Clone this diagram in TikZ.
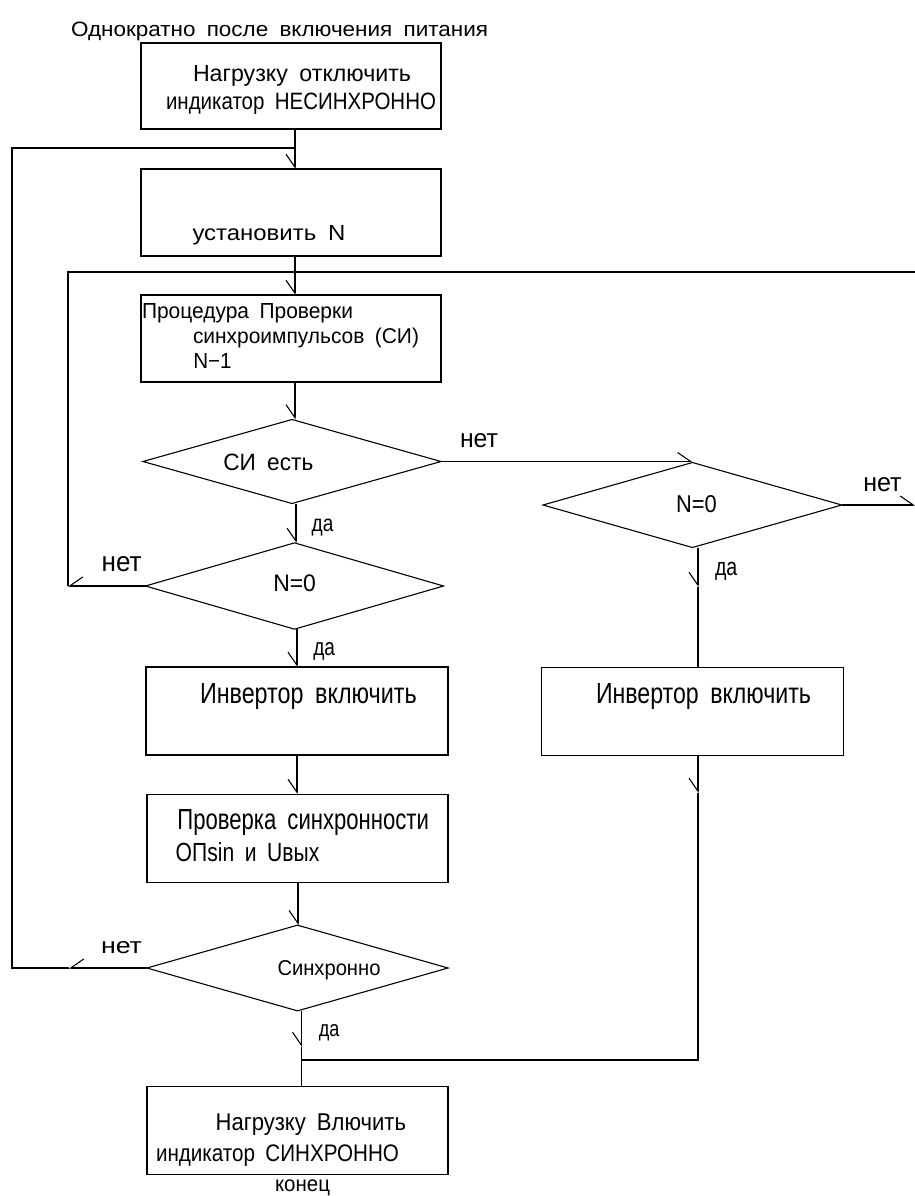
\documentclass[tikz,border=0pt]{standalone}
\usepackage{fontspec}
\setmainfont{Liberation Sans}[WordSpace=1.8]
\usetikzlibrary{shapes.geometric,arrows.meta}
\newcommand{\tx}[3]{\resizebox{#1pt}{#2pt}{#3}}
\begin{document}
\begin{tikzpicture}[x=1pt,y=-1pt,
  line width=1.1pt,
  box/.style={draw, rectangle, inner sep=0pt, outer sep=0pt},
  dia/.style={draw, diamond, inner sep=0pt, outer sep=0pt},
  txt/.style={anchor=base west, inner sep=0pt, outer sep=0pt, font=\fontsize{20}{24}\selectfont},
  barbR/.style={-{Straight Barb[harpoon,swap,length=13pt,width=18pt]}},
  barbL/.style={-{Straight Barb[harpoon,length=13pt,width=18pt]}},
]
\useasboundingbox (0,0) rectangle (915,1196);

% boxes
\node[box, minimum width=300pt, minimum height=86pt] (b1) at (291,86) {};
\node[box, minimum width=300pt, minimum height=87pt] (b2) at (291,212.5) {};
\node[box, minimum width=300pt, minimum height=87pt] (b3) at (291,338.5) {};
\node[box, minimum width=302pt, minimum height=88pt] (b4) at (297,711) {};
\node[box, minimum width=301pt, minimum height=88.5pt] (b5) at (297.5,838.3) {};
\node[box, minimum width=301pt, minimum height=87.5pt] (b6) at (297.5,1130.4) {};
\node[box, minimum width=301.3pt, minimum height=88.7pt] (b7) at (692.4,711.4) {};

% diamonds
\node[dia, minimum width=298pt, minimum height=84pt] (d1) at (292,461.5) {};
\node[dia, minimum width=298pt, minimum height=86.3pt] (d2) at (294.5,586) {};
\node[dia, minimum width=301pt, minimum height=85.7pt] (d3) at (297.5,968) {};
\node[dia, minimum width=298.7pt, minimum height=85pt] (d4) at (692.4,505) {};

% texts
\node[txt] (title) at (71,37) {\tx{417}{14.5}{Однократно после включения питания}};
\node[txt] (t1) at (193,82) {\tx{218}{16}{Нагрузку отключить}};
\node[txt] (t2) at (166,110) {\tx{270}{16.5}{индикатор НЕСИНХРОННО}};
\node[txt] (t3) at (192.5,240) {\tx{153}{15}{установить N}};
\node[txt] (t4) at (142,318) {\tx{211}{15}{Процедура Проверки}};
\node[txt] (t5) at (193,343) {\tx{226}{15.5}{синхроимпульсов (СИ)}};
\node[txt] (t6) at (193.3,368) {\tx{38.4}{15}{N−1}};
\node[txt] (t7) at (223.3,470) {\tx{90}{16.5}{СИ есть}};
\node[txt] (t8) at (460,447) {\tx{38}{14}{нет}};
\node[txt] (t9) at (863.3,491.7) {\tx{38.4}{14}{нет}};
\node[txt] (t10) at (676,512.7) {\tx{40.7}{17}{N=0}};
\node[txt] (t11) at (715,575) {\tx{22.3}{13.3}{да}};
\node[txt] (t12) at (101.7,571.7) {\tx{40}{15}{нет}};
\node[txt] (t13) at (273.3,591.7) {\tx{42.7}{16.7}{N=0}};
\node[txt] (t14) at (311.7,531.7) {\tx{21.7}{12.5}{да}};
\node[txt] (t15) at (313.3,655) {\tx{21.7}{13}{да}};
\node[txt] (t16) at (200,703.3) {\tx{216.7}{20}{Инвертор включить}};
\node[txt] (t17) at (596,703.3) {\tx{215}{20}{Инвертор включить}};
\node[txt] (t18) at (177.4,829) {\tx{251.6}{20}{Проверка синхронности}};
\node[txt] (t19) at (175.7,861.7) {\tx{143.6}{19}{ОПsin и Uвых}};
\node[txt] (t20) at (101,953.3) {\tx{41}{12}{нет}};
\node[txt] (t21) at (277.5,975) {\tx{103}{15}{Синхронно}};
\node[txt] (t22) at (318.8,1036.7) {\tx{20.6}{12}{да}};
\node[txt] (t23) at (215.6,1130) {\tx{190.4}{16.7}{Нагрузку Влючить}};
\node[txt] (t24) at (156,1161.7) {\tx{243}{16.7}{индикатор СИНХРОННО}};
\node[txt] (t25) at (275,1191.7) {\tx{55}{11.7}{конец}};

% helper coordinates
\coordinate (J1) at (295,148);
\coordinate (J2) at (295,272);
\coordinate (L) at (12,148);
\coordinate (M1) at (68,272);
\coordinate (R) at (915,272);
\coordinate (cA) at (296,0);
\coordinate (cB) at (297,0);
\coordinate (cC) at (298,0);
\coordinate (A6) at (301.5,1047);
\coordinate (J3) at (301.5,1060);
\coordinate (A3) at (69,0);
\coordinate (A4) at (698,587);
\coordinate (A7) at (698,793);

% main column
\draw (b1.south -| J1) -- (J1);
\draw[barbR] (J1) -- (b2.north -| J1);
\draw (b2.south -| J2) -- (J2);
\draw[barbR] (J2) -- (b3.north -| J2);
\draw[barbR] (b3.south -| J2) -- (d1.north -| J2);
\draw[barbR] (d1.south -| cA) -- (d2.north -| cA);
\draw[barbR] (d2.south -| cB) -- (b4.north -| cB);
\draw[barbR] (b4.south -| cB) -- (b5.north -| cB);
\draw[barbR] (b5.south -| cC) -- (d3.north -| cC);
\draw[barbR] (d3.south -| A6) -- (A6);
\draw (A6) -- (b6.north -| A6);

% right branch
\draw[barbL] (d1.east) -- (d1.east -| d4.north);
\draw[barbL] (d4.east) -- (d4.east -| R);
\draw[barbR] (d4.south -| A4) -- (A4);
\draw (A4) -- (b7.north -| A4);
\draw[barbR] (b7.south -| A7) -- (A7);
\draw (A7) -- (A7 |- J3) -- (J3);

% loops
\draw[barbR] (d2.west) -- (d2.west -| M1);
\draw (d2.west -| M1) -- (M1) -- (R);
\draw[barbR] (d3.west) -- (d3.west -| A3);
\draw (d3.west -| A3) -- (d3.west -| L) -- (L) -- (J1);
\end{tikzpicture}
\end{document}
